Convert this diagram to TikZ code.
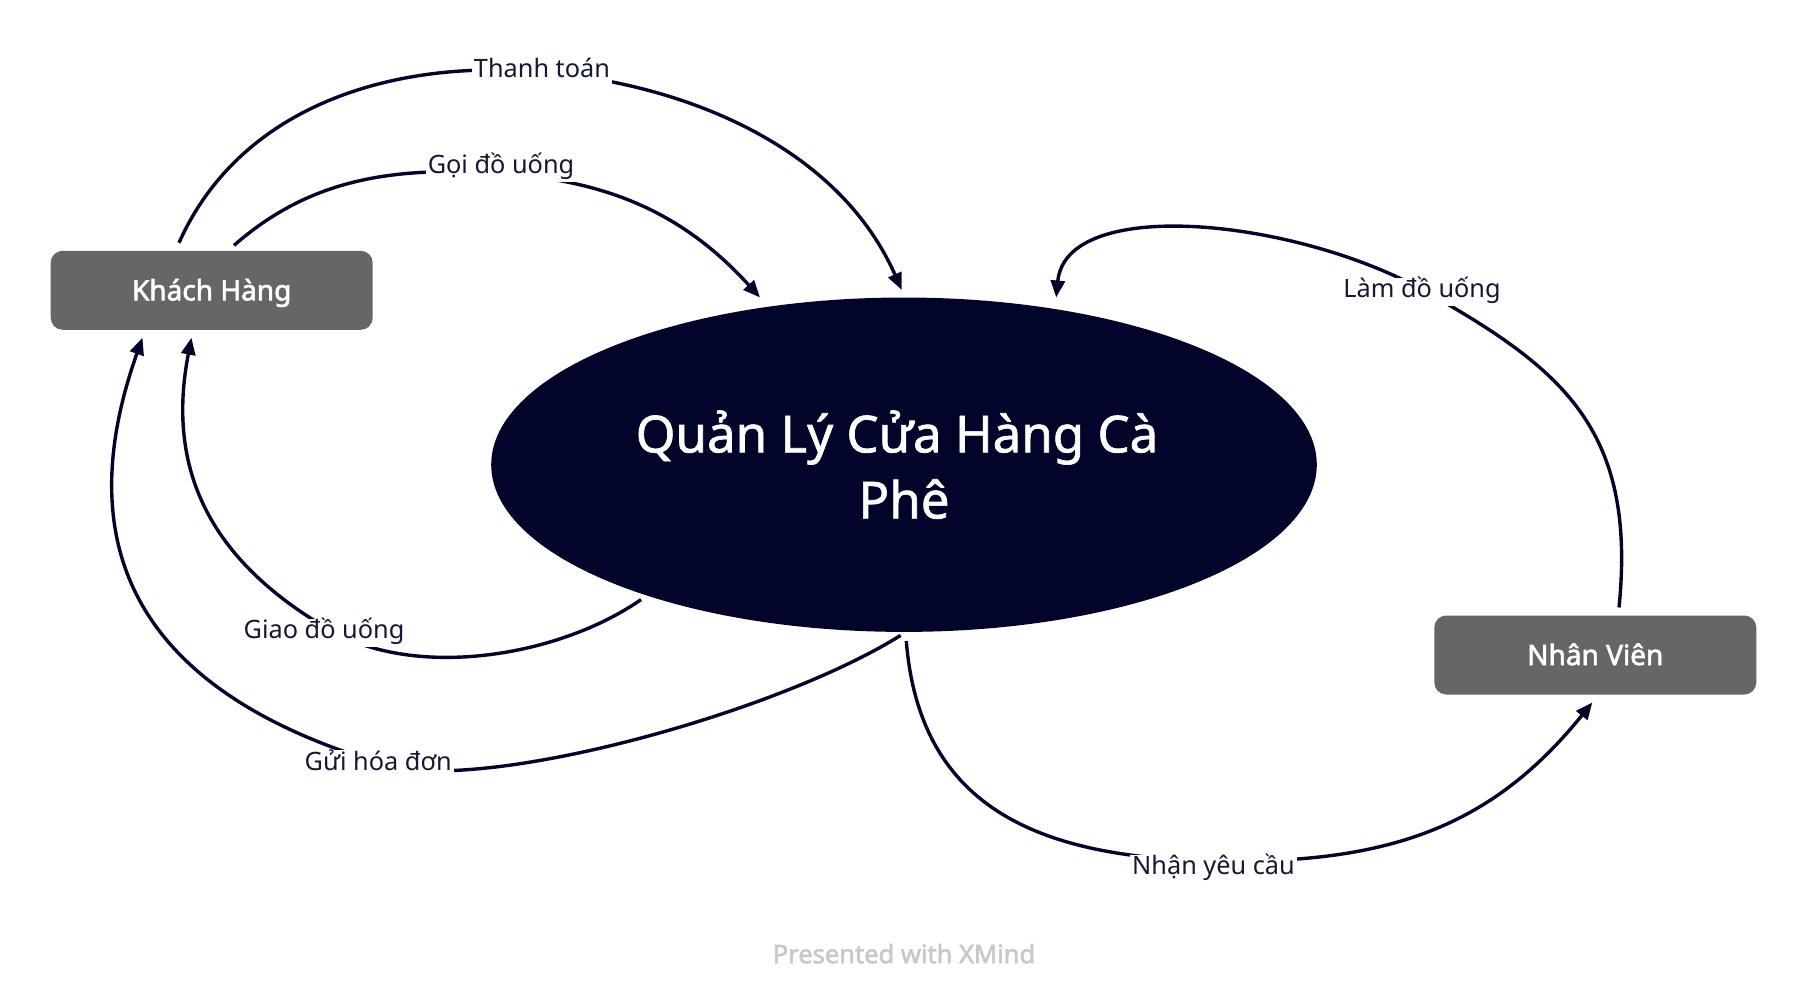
\documentclass[tikz,border=0pt]{standalone}
\usepackage{fontspec}
\setmainfont{Noto Sans}
\newfontfamily\heavyfont{Noto Sans}[FakeBold=2.2]
\newfontfamily\titlefont{Noto Sans}[FakeBold=1.3]
\usetikzlibrary{shapes.geometric,arrows.meta,calc}
\definecolor{navy}{HTML}{020529}
\definecolor{boxgray}{HTML}{666666}
\definecolor{labelcol}{HTML}{141833}
\definecolor{footgray}{HTML}{C8C8C8}
\begin{document}
\begin{tikzpicture}[x=1pt,y=-1pt,
  conn/.style={draw=navy, line width=3.4pt, -{Triangle[length=17pt,width=14pt]}},
  lbl/.style={fill=white, inner sep=2pt, text=labelcol, font=\fontsize{25.3}{30}\selectfont, text height=18pt, text depth=6pt},
  actor/.style={rectangle, rounded corners=12pt, fill=boxgray, text=white, font=\heavyfont\fontsize{28}{33}\selectfont, minimum width=322pt, minimum height=79pt, inner sep=0pt, text height=21pt, text depth=1pt},
  central/.style={ellipse, fill=navy, minimum width=825.6pt, minimum height=334.4pt, inner sep=0pt, text=white, align=center, font=\titlefont\fontsize{51}{66}\selectfont},
  footer/.style={text=footgray, font=\heavyfont\fontsize{25.5}{30}\selectfont}
  ]
\useasboundingbox (0,0) rectangle (1808,1004);
\node[actor] (kh) at (211.7,290.3) {Khách Hàng};
\node[actor] (nv) at (1595.3,655) {Nhân Viên};
\node[central] (c) at (904,464.7) {Quản Lý Cửa Hàng Cà\kern14pt\\Phê};

\coordinate (m1) at (542,72);
\coordinate (m2) at (501,173.5);
\coordinate (m3) at (1422,289.5);
\coordinate (m4) at (330,630);
\coordinate (m5) at (386,765);
\coordinate (m6) at (1213.5,861);

\draw[conn] ($(kh.north)+(-32.7,-7.8)$) .. controls (240,106) and (392,59) .. (m1)
  .. controls (692,84.8) and (840,150) .. ($(c.center)+(-2.3,-174.7)$);
\draw[conn] ($(kh.north)+(22.3,-5.2)$) .. controls (309,179.6) and (391,166) .. (m2)
  .. controls (601,180.3) and (679.6,208.7) .. ($(c.center)+(-144,-167.2)$);
\draw[conn] ($(nv.north)+(23.7,-7.8)$) .. controls (1637,427.7) and (1561.2,367.9) .. (m3)
  .. controls (1291.5,218) and (1066,196) .. ($(c.center)+(152.2,-167.2)$);
\draw[conn] ($(c.center)+(-263,134.9)$) .. controls (559,656.6) and (416.5,680) .. (m4)
  .. controls (208.9,560) and (166,468.7) .. ($(kh.south)+(-20.2,7.7)$);
\draw[conn] ($(c.center)+(-3.4,170.7)$) .. controls (773,714.9) and (482,793) .. (m5)
  .. controls (155.6,697.8) and (62,564.6) .. ($(kh.south)+(-69.2,7.7)$);
\draw[conn] ($(c.center)+(2.3,176.4)$) .. controls (919.9,811.1) and (1043.5,857.6) .. (m6)
  .. controls (1388.5,864.5) and (1491.6,827) .. ($(nv.south)+(-2.9,7.7)$);

\node[lbl, yshift=1pt] (l1) at (m1) {Thanh toán};
\node[lbl, yshift=5.7pt] (l2) at (m2) {Gọi đồ uống};
\node[lbl, yshift=-2pt] (l3) at (m3) {Làm đồ uống};
\node[lbl, xshift=-6pt, yshift=-2.5pt] (l4) at (m4) {Giao đồ uống};
\node[lbl, xshift=-7.8pt, yshift=1pt] (l5) at (m5) {Gửi hóa đơn};
\node[lbl, yshift=-7.9pt] (l6) at (m6) {Nhận yêu cầu};

\node[footer] (ft) at (904,953.6) {Presented with XMind};
\end{tikzpicture}
\end{document}
